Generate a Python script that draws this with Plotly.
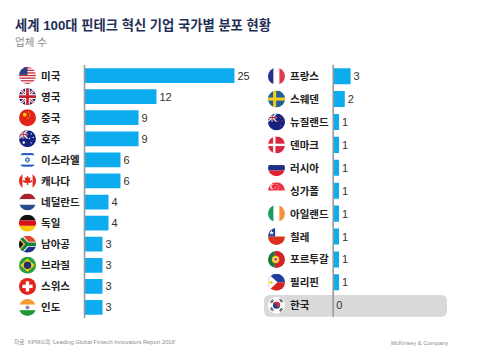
import base64
import plotly.graph_objects as go
from plotly.subplots import make_subplots

left_countries = ["미국", "영국", "중국", "호주", "이스라엘", "캐나다", "네덜란드", "독일", "남아공", "브라질", "스위스", "인도"]
left_values = [25, 12, 9, 9, 6, 6, 4, 4, 3, 3, 3, 3]
right_countries = ["프랑스", "스웨덴", "뉴질랜드", "덴마크", "러시아", "싱가폴", "아일랜드", "칠레", "포르투갈", "필리핀", "한국"]
right_values = [3, 2, 1, 1, 1, 1, 1, 1, 1, 1, 0]

TITLE = "세계 100대 핀테크 혁신 기업 국가별 분포 현황"
SUBTITLE = "업체 수"
SOURCE = "자료: KPMG의 'Leading Global Fintech Innovators Report 2016'"
BRAND = "McKinsey & Company"

W, H = 500, 354
KR = "Liberation Sans, Noto Sans CJK KR"
LATIN = "Liberation Sans"
BAR = "#0DACEF"
AXIS = "#9A9A9A"


def r(x, y, w, h, c):
    return f'<rect x="{x}" y="{y}" width="{w}" height="{h}" fill="{c}"/>'


NAVY = "#1B2A6B"
FLAGS = {
    "미국": r(0, 0, 100, 100, "#fff") + "".join(r(0, i * 15.4, 100, 7.7, "#C8303C") for i in range(7)) + r(0, 0, 50, 46, "#2C3E7E"),
    "영국": r(0, 0, 100, 100, NAVY) + '<path d="M0 0L100 100M100 0L0 100" stroke="#fff" stroke-width="16"/>' + '<path d="M0 0L100 100M100 0L0 100" stroke="#C8202F" stroke-width="6"/>' + r(36, 0, 28, 100, "#fff") + r(0, 36, 100, 28, "#fff") + r(42, 0, 16, 100, "#C8202F") + r(0, 42, 100, 16, "#C8202F"),
    "중국": r(0, 0, 100, 100, "#E2231A") + '<circle cx="34" cy="32" r="11" fill="#FFD500"/><circle cx="56" cy="17" r="3.5" fill="#FFD500"/><circle cx="64" cy="29" r="3.5" fill="#FFD500"/><circle cx="62" cy="43" r="3.5" fill="#FFD500"/><circle cx="52" cy="53" r="3.5" fill="#FFD500"/>',
    "호주": r(0, 0, 100, 100, "#14237E") + r(0, 0, 50, 48, "#3A3F8F") + '<path d="M0 0L50 48M50 0L0 48" stroke="#fff" stroke-width="7"/>' + r(20, 0, 10, 48, "#fff") + r(0, 19, 50, 10, "#fff") + r(22, 0, 6, 48, "#C8202F") + r(0, 21, 50, 6, "#C8202F") + '<circle cx="72" cy="22" r="4" fill="#fff"/><circle cx="84" cy="42" r="4" fill="#fff"/><circle cx="62" cy="48" r="4" fill="#fff"/><circle cx="72" cy="74" r="4" fill="#fff"/><circle cx="28" cy="72" r="7" fill="#fff"/>',
    "이스라엘": r(0, 0, 100, 100, "#fff") + r(0, 10, 100, 12, "#1E5BB8") + r(0, 78, 100, 12, "#1E5BB8") + '<path d="M50 32L63 57H37ZM50 68L37 43H63Z" fill="none" stroke="#1E5BB8" stroke-width="4"/>',
    "캐나다": r(0, 0, 100, 100, "#fff") + r(0, 0, 20, 100, "#E1261C") + r(80, 0, 20, 100, "#E1261C") + '<path d="M50 18L58 32L67 28L63 50L73 44L78 54L68 60H54V74H46V60H32L22 54L27 44L37 50L33 28L42 32Z" fill="#E1261C"/>',
    "네덜란드": r(0, 0, 100, 34, "#A8232F") + r(0, 34, 100, 32, "#fff") + r(0, 66, 100, 34, "#2A4A8F"),
    "독일": r(0, 0, 100, 34, "#111") + r(0, 34, 100, 32, "#D8111B") + r(0, 66, 100, 34, "#F7C600"),
    "남아공": r(0, 0, 100, 50, "#DE4A2B") + r(0, 50, 100, 50, "#1B2F8A") + '<path d="M0 -5L48 50L0 105" fill="none" stroke="#fff" stroke-width="30"/><path d="M48 50H100" stroke="#fff" stroke-width="30"/><path d="M0 0L48 50L0 100" fill="none" stroke="#16803C" stroke-width="20"/><path d="M48 50H100" stroke="#16803C" stroke-width="20"/><path d="M0 22L26 50L0 78Z" fill="#111"/><path d="M0 14L33 50L0 86" fill="none" stroke="#F4B81C" stroke-width="6"/>',
    "브라질": r(0, 0, 100, 100, "#2F9E3F") + '<path d="M50 12L92 50L50 88L8 50Z" fill="#F5D90A"/><circle cx="50" cy="50" r="22" fill="#24307E"/>',
    "스위스": r(0, 0, 100, 100, "#E0231C") + r(40, 20, 20, 60, "#fff") + r(20, 40, 60, 20, "#fff"),
    "인도": r(0, 0, 100, 34, "#F49B33") + r(0, 34, 100, 32, "#fff") + r(0, 66, 100, 34, "#1E9A3D") + '<circle cx="50" cy="50" r="12" fill="#8C8CB8"/>',
    "프랑스": r(0, 0, 33, 100, "#23308E") + r(33, 0, 34, 100, "#fff") + r(67, 0, 33, 100, "#E13A48"),
    "스웨덴": r(0, 0, 100, 100, "#1F6296") + r(30, 0, 18, 100, "#F6CE1A") + r(0, 41, 100, 18, "#F6CE1A"),
    "뉴질랜드": r(0, 0, 100, 100, "#14237E") + '<path d="M0 0L50 48M50 0L0 48" stroke="#fff" stroke-width="7"/>' + r(20, 0, 10, 48, "#fff") + r(0, 19, 50, 10, "#fff") + r(22, 0, 6, 48, "#C8202F") + r(0, 21, 50, 6, "#C8202F") + '<circle cx="72" cy="24" r="4" fill="#D8283A"/><circle cx="84" cy="44" r="4" fill="#D8283A"/><circle cx="62" cy="46" r="4" fill="#D8283A"/><circle cx="72" cy="72" r="4" fill="#D8283A"/>',
    "덴마크": r(0, 0, 100, 100, "#D8283F") + r(30, 0, 14, 100, "#fff") + r(0, 43, 100, 14, "#fff"),
    "러시아": r(0, 0, 100, 34, "#fff") + r(0, 34, 100, 32, "#1F2F86") + r(0, 66, 100, 34, "#E0222E"),
    "싱가폴": r(0, 0, 100, 50, "#EC3340") + r(0, 50, 100, 50, "#fff") + '<circle cx="28" cy="26" r="15" fill="#fff"/><circle cx="34" cy="26" r="14" fill="#EC3340"/><circle cx="52" cy="14" r="3" fill="#fff"/><circle cx="64" cy="24" r="3" fill="#fff"/><circle cx="46" cy="30" r="3" fill="#fff"/><circle cx="60" cy="38" r="3" fill="#fff"/>',
    "아일랜드": r(0, 0, 33, 100, "#1C9A5B") + r(33, 0, 34, 100, "#fff") + r(67, 0, 33, 100, "#F3913C"),
    "칠레": r(0, 0, 100, 50, "#fff") + r(0, 50, 100, 50, "#D8321E") + r(0, 0, 42, 50, "#1F3F94") + '<path d="M21 12L25 23H36L27 30L30 41L21 34L12 41L15 30L6 23H17Z" fill="#fff"/>',
    "포르투갈": r(0, 0, 40, 100, "#1A7A3C") + r(40, 0, 60, 100, "#D3232A") + '<circle cx="45" cy="50" r="22" fill="#F2C418"/><circle cx="45" cy="50" r="13" fill="#fff"/><circle cx="45" cy="50" r="8" fill="#C8202F"/>',
    "필리핀": r(0, 0, 100, 50, "#1F3FA0") + r(0, 50, 100, 50, "#D8231F") + '<path d="M0 -2L56 50L0 102Z" fill="#fff"/><circle cx="18" cy="50" r="10" fill="#F7D01A"/>',
    "한국": r(0, 0, 100, 100, "#fff") + '<circle cx="50" cy="50" r="21" fill="#24408E"/><path d="M29 50A21 21 0 0 1 71 50A10.5 10.5 0 0 1 50 50A10.5 10.5 0 0 0 29 50Z" fill="#CD2E3A"/><g stroke="#111" stroke-width="5"><path d="M14 34L26 16M20 38L32 20M68 84L80 66M74 88L86 70M14 66L26 84M20 62L32 80M68 16L80 34M74 12L86 30"/></g>',
}


def flag_uri(name):
    svg = (
        '<svg xmlns="http://www.w3.org/2000/svg" width="100" height="100" viewBox="0 0 100 100">'
        '<defs><clipPath id="c"><circle cx="50" cy="50" r="50"/></clipPath></defs>'
        f'<g clip-path="url(#c)">{FLAGS[name]}</g></svg>'
    )
    return "data:image/svg+xml;base64," + base64.b64encode(svg.encode()).decode()


fig = make_subplots(rows=1, cols=2)


def px(v):
    return v / W


def py(v):
    return 1 - v / H


def add_panel(col, names, values, axis_x, top, bottom, unit, axis_right, flag_x, label_x):
    fig.add_trace(
        go.Bar(
            x=values, y=names, orientation="h",
            marker=dict(color=BAR, line=dict(width=0)),
            text=values, textposition="outside", cliponaxis=False,
            textfont=dict(family=LATIN, size=11, color="#333333"),
            width=0.7, hoverinfo="skip", showlegend=False,
        ),
        row=1, col=col,
    )
    fig.update_xaxes(
        domain=[px(axis_x), px(axis_right)],
        range=[0, (axis_right - axis_x) / unit],
        visible=False, row=1, col=col,
    )
    fig.update_yaxes(
        domain=[py(bottom), py(top)],
        autorange=False, range=[len(names) - 0.5, -0.5],
        showticklabels=False, ticks="", showgrid=False, zeroline=False,
        showline=False, row=1, col=col,
    )
    step = (bottom - top) / len(names)
    for i, n in enumerate(names):
        cy = top + step * (i + 0.5)
        fig.add_layout_image(
            source=flag_uri(n), xref="paper", yref="paper",
            x=px(flag_x - 8.5), y=py(cy - 8.5), sizex=17 / W, sizey=17 / H,
            xanchor="left", yanchor="top", sizing="stretch", layer="above",
        )
        fig.add_annotation(
            text=f"<b>{n}</b>", xref="paper", yref="paper",
            x=px(label_x), y=py(cy), xanchor="left", yanchor="middle",
            showarrow=False, borderpad=0, borderwidth=0,
            font=dict(family=KR, size=10.5, color="#222222"),
        )
    fig.add_shape(
        type="line", xref="paper", yref="paper", layer="above",
        x0=px(axis_x), x1=px(axis_x), y0=py(top), y1=py(bottom),
        line=dict(color=AXIS, width=1.6),
    )


add_panel(1, left_countries, left_values, 84.5, 65, 318, 6.0, 250, 27.5, 41)
add_panel(2, right_countries, right_values, 333.2, 64.7, 316.7, 5.8, 480, 276.5, 290)

# Highlight behind the Korea row
x0, x1, y0, y1, rad = px(264), px(447), py(295), py(316.7), 6
rx, ry = rad / W, rad / H
fig.add_shape(
    type="path", xref="paper", yref="paper", layer="below",
    path=(
        f"M {x0 + rx} {y0} L {x1 - rx} {y0} Q {x1} {y0} {x1} {y0 - ry} "
        f"L {x1} {y1 + ry} Q {x1} {y1} {x1 - rx} {y1} L {x0 + rx} {y1} "
        f"Q {x0} {y1} {x0} {y1 + ry} L {x0} {y0 - ry} Q {x0} {y0} {x0 + rx} {y0} Z"
    ),
    fillcolor="#D9D9D9", line=dict(width=0),
)


def text(t, x, y, size, color, family=KR, anchor="left"):
    fig.add_annotation(
        text=t, xref="paper", yref="paper", x=px(x), y=py(y),
        xanchor=anchor, yanchor="middle", showarrow=False,
        borderpad=0, borderwidth=0,
        font=dict(family=family, size=size, color=color),
    )


text(f"<b>{TITLE}</b>", 14.5, 25.5, 13.3, "#1F2F55")
text(SUBTITLE, 14.5, 41.5, 10.5, "#8A8A8A")
text(SOURCE, 14, 342, 5.8, "#8C8C8C")
text(BRAND, 391, 343, 5.8, "#8C8C8C", family=LATIN)

fig.update_layout(
    width=W, height=H, margin=dict(l=0, r=0, t=0, b=0),
    paper_bgcolor="white", plot_bgcolor="rgba(0,0,0,0)",
    barmode="overlay", showlegend=False,
)
fig.write_html("out.html", config={"displayModeBar": False},
               post_script="document.body.style.margin='0';")
